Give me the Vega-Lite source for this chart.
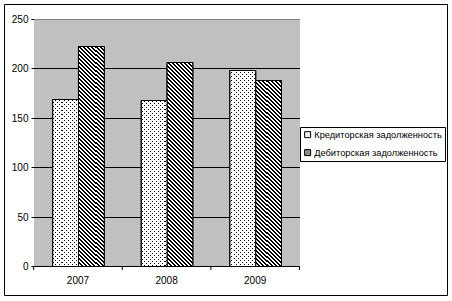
{
"$schema":"https://vega.github.io/schema/vega-lite/v6.json",
"width":443,"height":291,
"autosize":{"type":"none"},
"padding":{"left":4,"top":4,"right":5,"bottom":6},
"background":"white",
"config":{"font":"Liberation Sans","view":{"stroke":"black","strokeWidth":1,"fill":"white"},
"axis":{"labelFont":"Liberation Sans","labelFontSize":10,"labelColor":"black","tickColor":"black","tickWidth":1,"grid":false,"domain":false,"title":null}},
"params":[
{"name":"hs","value":[
{"offset":0,"color":"#000"},
{"offset":0.008,"color":"#000"},{"offset":0.008,"color":"#fff"},{"offset":0.016,"color":"#fff"},{"offset":0.016,"color":"#000"},
{"offset":0.024,"color":"#000"},{"offset":0.024,"color":"#fff"},{"offset":0.032,"color":"#fff"},{"offset":0.032,"color":"#000"},
{"offset":0.04,"color":"#000"},{"offset":0.04,"color":"#fff"},{"offset":0.048,"color":"#fff"},{"offset":0.048,"color":"#000"},
{"offset":0.056,"color":"#000"},{"offset":0.056,"color":"#fff"},{"offset":0.064,"color":"#fff"},{"offset":0.064,"color":"#000"},
{"offset":0.072,"color":"#000"},{"offset":0.072,"color":"#fff"},{"offset":0.08,"color":"#fff"},{"offset":0.08,"color":"#000"},
{"offset":0.088,"color":"#000"},{"offset":0.088,"color":"#fff"},{"offset":0.096,"color":"#fff"},{"offset":0.096,"color":"#000"},
{"offset":0.104,"color":"#000"},{"offset":0.104,"color":"#fff"},{"offset":0.112,"color":"#fff"},{"offset":0.112,"color":"#000"},
{"offset":0.12,"color":"#000"},{"offset":0.12,"color":"#fff"},{"offset":0.128,"color":"#fff"},{"offset":0.128,"color":"#000"},
{"offset":0.136,"color":"#000"},{"offset":0.136,"color":"#fff"},{"offset":0.144,"color":"#fff"},{"offset":0.144,"color":"#000"},
{"offset":0.152,"color":"#000"},{"offset":0.152,"color":"#fff"},{"offset":0.16,"color":"#fff"},{"offset":0.16,"color":"#000"},
{"offset":0.168,"color":"#000"},{"offset":0.168,"color":"#fff"},{"offset":0.176,"color":"#fff"},{"offset":0.176,"color":"#000"},
{"offset":0.184,"color":"#000"},{"offset":0.184,"color":"#fff"},{"offset":0.192,"color":"#fff"},{"offset":0.192,"color":"#000"},
{"offset":0.2,"color":"#000"},{"offset":0.2,"color":"#fff"},{"offset":0.208,"color":"#fff"},{"offset":0.208,"color":"#000"},
{"offset":0.216,"color":"#000"},{"offset":0.216,"color":"#fff"},{"offset":0.224,"color":"#fff"},{"offset":0.224,"color":"#000"},
{"offset":0.232,"color":"#000"},{"offset":0.232,"color":"#fff"},{"offset":0.24,"color":"#fff"},{"offset":0.24,"color":"#000"},
{"offset":0.248,"color":"#000"},{"offset":0.248,"color":"#fff"},{"offset":0.256,"color":"#fff"},{"offset":0.256,"color":"#000"},
{"offset":0.264,"color":"#000"},{"offset":0.264,"color":"#fff"},{"offset":0.272,"color":"#fff"},{"offset":0.272,"color":"#000"},
{"offset":0.28,"color":"#000"},{"offset":0.28,"color":"#fff"},{"offset":0.288,"color":"#fff"},{"offset":0.288,"color":"#000"},
{"offset":0.296,"color":"#000"},{"offset":0.296,"color":"#fff"},{"offset":0.304,"color":"#fff"},{"offset":0.304,"color":"#000"},
{"offset":0.312,"color":"#000"},{"offset":0.312,"color":"#fff"},{"offset":0.32,"color":"#fff"},{"offset":0.32,"color":"#000"},
{"offset":0.328,"color":"#000"},{"offset":0.328,"color":"#fff"},{"offset":0.336,"color":"#fff"},{"offset":0.336,"color":"#000"},
{"offset":0.344,"color":"#000"},{"offset":0.344,"color":"#fff"},{"offset":0.352,"color":"#fff"},{"offset":0.352,"color":"#000"},
{"offset":0.36,"color":"#000"},{"offset":0.36,"color":"#fff"},{"offset":0.368,"color":"#fff"},{"offset":0.368,"color":"#000"},
{"offset":0.376,"color":"#000"},{"offset":0.376,"color":"#fff"},{"offset":0.384,"color":"#fff"},{"offset":0.384,"color":"#000"},
{"offset":0.392,"color":"#000"},{"offset":0.392,"color":"#fff"},{"offset":0.4,"color":"#fff"},{"offset":0.4,"color":"#000"},
{"offset":0.408,"color":"#000"},{"offset":0.408,"color":"#fff"},{"offset":0.416,"color":"#fff"},{"offset":0.416,"color":"#000"},
{"offset":0.424,"color":"#000"},{"offset":0.424,"color":"#fff"},{"offset":0.432,"color":"#fff"},{"offset":0.432,"color":"#000"},
{"offset":0.44,"color":"#000"},{"offset":0.44,"color":"#fff"},{"offset":0.448,"color":"#fff"},{"offset":0.448,"color":"#000"},
{"offset":0.456,"color":"#000"},{"offset":0.456,"color":"#fff"},{"offset":0.464,"color":"#fff"},{"offset":0.464,"color":"#000"},
{"offset":0.472,"color":"#000"},{"offset":0.472,"color":"#fff"},{"offset":0.48,"color":"#fff"},{"offset":0.48,"color":"#000"},
{"offset":0.488,"color":"#000"},{"offset":0.488,"color":"#fff"},{"offset":0.496,"color":"#fff"},{"offset":0.496,"color":"#000"},
{"offset":0.504,"color":"#000"},{"offset":0.504,"color":"#fff"},{"offset":0.512,"color":"#fff"},{"offset":0.512,"color":"#000"},
{"offset":0.52,"color":"#000"},{"offset":0.52,"color":"#fff"},{"offset":0.528,"color":"#fff"},{"offset":0.528,"color":"#000"},
{"offset":0.536,"color":"#000"},{"offset":0.536,"color":"#fff"},{"offset":0.544,"color":"#fff"},{"offset":0.544,"color":"#000"},
{"offset":0.552,"color":"#000"},{"offset":0.552,"color":"#fff"},{"offset":0.56,"color":"#fff"},{"offset":0.56,"color":"#000"},
{"offset":0.568,"color":"#000"},{"offset":0.568,"color":"#fff"},{"offset":0.576,"color":"#fff"},{"offset":0.576,"color":"#000"},
{"offset":0.584,"color":"#000"},{"offset":0.584,"color":"#fff"},{"offset":0.592,"color":"#fff"},{"offset":0.592,"color":"#000"},
{"offset":0.6,"color":"#000"},{"offset":0.6,"color":"#fff"},{"offset":0.608,"color":"#fff"},{"offset":0.608,"color":"#000"},
{"offset":0.616,"color":"#000"},{"offset":0.616,"color":"#fff"},{"offset":0.624,"color":"#fff"},{"offset":0.624,"color":"#000"},
{"offset":0.632,"color":"#000"},{"offset":0.632,"color":"#fff"},{"offset":0.64,"color":"#fff"},{"offset":0.64,"color":"#000"},
{"offset":0.648,"color":"#000"},{"offset":0.648,"color":"#fff"},{"offset":0.656,"color":"#fff"},{"offset":0.656,"color":"#000"},
{"offset":0.664,"color":"#000"},{"offset":0.664,"color":"#fff"},{"offset":0.672,"color":"#fff"},{"offset":0.672,"color":"#000"},
{"offset":0.68,"color":"#000"},{"offset":0.68,"color":"#fff"},{"offset":0.688,"color":"#fff"},{"offset":0.688,"color":"#000"},
{"offset":0.696,"color":"#000"},{"offset":0.696,"color":"#fff"},{"offset":0.704,"color":"#fff"},{"offset":0.704,"color":"#000"},
{"offset":0.712,"color":"#000"},{"offset":0.712,"color":"#fff"},{"offset":0.72,"color":"#fff"},{"offset":0.72,"color":"#000"},
{"offset":0.728,"color":"#000"},{"offset":0.728,"color":"#fff"},{"offset":0.736,"color":"#fff"},{"offset":0.736,"color":"#000"},
{"offset":0.744,"color":"#000"},{"offset":0.744,"color":"#fff"},{"offset":0.752,"color":"#fff"},{"offset":0.752,"color":"#000"},
{"offset":0.76,"color":"#000"},{"offset":0.76,"color":"#fff"},{"offset":0.768,"color":"#fff"},{"offset":0.768,"color":"#000"},
{"offset":0.776,"color":"#000"},{"offset":0.776,"color":"#fff"},{"offset":0.784,"color":"#fff"},{"offset":0.784,"color":"#000"},
{"offset":0.792,"color":"#000"},{"offset":0.792,"color":"#fff"},{"offset":0.8,"color":"#fff"},{"offset":0.8,"color":"#000"},
{"offset":0.808,"color":"#000"},{"offset":0.808,"color":"#fff"},{"offset":0.816,"color":"#fff"},{"offset":0.816,"color":"#000"},
{"offset":0.824,"color":"#000"},{"offset":0.824,"color":"#fff"},{"offset":0.832,"color":"#fff"},{"offset":0.832,"color":"#000"},
{"offset":0.84,"color":"#000"},{"offset":0.84,"color":"#fff"},{"offset":0.848,"color":"#fff"},{"offset":0.848,"color":"#000"},
{"offset":0.856,"color":"#000"},{"offset":0.856,"color":"#fff"},{"offset":0.864,"color":"#fff"},{"offset":0.864,"color":"#000"},
{"offset":0.872,"color":"#000"},{"offset":0.872,"color":"#fff"},{"offset":0.88,"color":"#fff"},{"offset":0.88,"color":"#000"},
{"offset":0.888,"color":"#000"},{"offset":0.888,"color":"#fff"},{"offset":0.896,"color":"#fff"},{"offset":0.896,"color":"#000"},
{"offset":0.904,"color":"#000"},{"offset":0.904,"color":"#fff"},{"offset":0.912,"color":"#fff"},{"offset":0.912,"color":"#000"},
{"offset":0.92,"color":"#000"},{"offset":0.92,"color":"#fff"},{"offset":0.928,"color":"#fff"},{"offset":0.928,"color":"#000"},
{"offset":0.936,"color":"#000"},{"offset":0.936,"color":"#fff"},{"offset":0.944,"color":"#fff"},{"offset":0.944,"color":"#000"},
{"offset":0.952,"color":"#000"},{"offset":0.952,"color":"#fff"},{"offset":0.96,"color":"#fff"},{"offset":0.96,"color":"#000"},
{"offset":0.968,"color":"#000"},{"offset":0.968,"color":"#fff"},{"offset":0.976,"color":"#fff"},{"offset":0.976,"color":"#000"},
{"offset":0.984,"color":"#000"},{"offset":0.984,"color":"#fff"},{"offset":1,"color":"#fff"}]},
{"name":"ms","value":[
{"offset":0,"color":"transparent"},
{"offset":0.004,"color":"transparent"},{"offset":0.004,"color":"#fff"},{"offset":0.016,"color":"#fff"},{"offset":0.016,"color":"transparent"},
{"offset":0.02,"color":"transparent"},{"offset":0.02,"color":"#fff"},{"offset":0.032,"color":"#fff"},{"offset":0.032,"color":"transparent"},
{"offset":0.036,"color":"transparent"},{"offset":0.036,"color":"#fff"},{"offset":0.048,"color":"#fff"},{"offset":0.048,"color":"transparent"},
{"offset":0.052,"color":"transparent"},{"offset":0.052,"color":"#fff"},{"offset":0.064,"color":"#fff"},{"offset":0.064,"color":"transparent"},
{"offset":0.068,"color":"transparent"},{"offset":0.068,"color":"#fff"},{"offset":0.08,"color":"#fff"},{"offset":0.08,"color":"transparent"},
{"offset":0.084,"color":"transparent"},{"offset":0.084,"color":"#fff"},{"offset":0.096,"color":"#fff"},{"offset":0.096,"color":"transparent"},
{"offset":0.1,"color":"transparent"},{"offset":0.1,"color":"#fff"},{"offset":0.112,"color":"#fff"},{"offset":0.112,"color":"transparent"},
{"offset":0.116,"color":"transparent"},{"offset":0.116,"color":"#fff"},{"offset":0.128,"color":"#fff"},{"offset":0.128,"color":"transparent"},
{"offset":0.132,"color":"transparent"},{"offset":0.132,"color":"#fff"},{"offset":0.144,"color":"#fff"},{"offset":0.144,"color":"transparent"},
{"offset":0.148,"color":"transparent"},{"offset":0.148,"color":"#fff"},{"offset":0.16,"color":"#fff"},{"offset":0.16,"color":"transparent"},
{"offset":0.164,"color":"transparent"},{"offset":0.164,"color":"#fff"},{"offset":0.176,"color":"#fff"},{"offset":0.176,"color":"transparent"},
{"offset":0.18,"color":"transparent"},{"offset":0.18,"color":"#fff"},{"offset":0.192,"color":"#fff"},{"offset":0.192,"color":"transparent"},
{"offset":0.196,"color":"transparent"},{"offset":0.196,"color":"#fff"},{"offset":0.208,"color":"#fff"},{"offset":0.208,"color":"transparent"},
{"offset":0.212,"color":"transparent"},{"offset":0.212,"color":"#fff"},{"offset":0.224,"color":"#fff"},{"offset":0.224,"color":"transparent"},
{"offset":0.228,"color":"transparent"},{"offset":0.228,"color":"#fff"},{"offset":0.24,"color":"#fff"},{"offset":0.24,"color":"transparent"},
{"offset":0.244,"color":"transparent"},{"offset":0.244,"color":"#fff"},{"offset":0.256,"color":"#fff"},{"offset":0.256,"color":"transparent"},
{"offset":0.26,"color":"transparent"},{"offset":0.26,"color":"#fff"},{"offset":0.272,"color":"#fff"},{"offset":0.272,"color":"transparent"},
{"offset":0.276,"color":"transparent"},{"offset":0.276,"color":"#fff"},{"offset":0.288,"color":"#fff"},{"offset":0.288,"color":"transparent"},
{"offset":0.292,"color":"transparent"},{"offset":0.292,"color":"#fff"},{"offset":0.304,"color":"#fff"},{"offset":0.304,"color":"transparent"},
{"offset":0.308,"color":"transparent"},{"offset":0.308,"color":"#fff"},{"offset":0.32,"color":"#fff"},{"offset":0.32,"color":"transparent"},
{"offset":0.324,"color":"transparent"},{"offset":0.324,"color":"#fff"},{"offset":0.336,"color":"#fff"},{"offset":0.336,"color":"transparent"},
{"offset":0.34,"color":"transparent"},{"offset":0.34,"color":"#fff"},{"offset":0.352,"color":"#fff"},{"offset":0.352,"color":"transparent"},
{"offset":0.356,"color":"transparent"},{"offset":0.356,"color":"#fff"},{"offset":0.368,"color":"#fff"},{"offset":0.368,"color":"transparent"},
{"offset":0.372,"color":"transparent"},{"offset":0.372,"color":"#fff"},{"offset":0.384,"color":"#fff"},{"offset":0.384,"color":"transparent"},
{"offset":0.388,"color":"transparent"},{"offset":0.388,"color":"#fff"},{"offset":0.4,"color":"#fff"},{"offset":0.4,"color":"transparent"},
{"offset":0.404,"color":"transparent"},{"offset":0.404,"color":"#fff"},{"offset":0.416,"color":"#fff"},{"offset":0.416,"color":"transparent"},
{"offset":0.42,"color":"transparent"},{"offset":0.42,"color":"#fff"},{"offset":0.432,"color":"#fff"},{"offset":0.432,"color":"transparent"},
{"offset":0.436,"color":"transparent"},{"offset":0.436,"color":"#fff"},{"offset":0.448,"color":"#fff"},{"offset":0.448,"color":"transparent"},
{"offset":0.452,"color":"transparent"},{"offset":0.452,"color":"#fff"},{"offset":0.464,"color":"#fff"},{"offset":0.464,"color":"transparent"},
{"offset":0.468,"color":"transparent"},{"offset":0.468,"color":"#fff"},{"offset":0.48,"color":"#fff"},{"offset":0.48,"color":"transparent"},
{"offset":0.484,"color":"transparent"},{"offset":0.484,"color":"#fff"},{"offset":0.496,"color":"#fff"},{"offset":0.496,"color":"transparent"},
{"offset":0.5,"color":"transparent"},{"offset":0.5,"color":"#fff"},{"offset":0.512,"color":"#fff"},{"offset":0.512,"color":"transparent"},
{"offset":0.516,"color":"transparent"},{"offset":0.516,"color":"#fff"},{"offset":0.528,"color":"#fff"},{"offset":0.528,"color":"transparent"},
{"offset":0.532,"color":"transparent"},{"offset":0.532,"color":"#fff"},{"offset":0.544,"color":"#fff"},{"offset":0.544,"color":"transparent"},
{"offset":0.548,"color":"transparent"},{"offset":0.548,"color":"#fff"},{"offset":0.56,"color":"#fff"},{"offset":0.56,"color":"transparent"},
{"offset":0.564,"color":"transparent"},{"offset":0.564,"color":"#fff"},{"offset":0.576,"color":"#fff"},{"offset":0.576,"color":"transparent"},
{"offset":0.58,"color":"transparent"},{"offset":0.58,"color":"#fff"},{"offset":0.592,"color":"#fff"},{"offset":0.592,"color":"transparent"},
{"offset":0.596,"color":"transparent"},{"offset":0.596,"color":"#fff"},{"offset":0.608,"color":"#fff"},{"offset":0.608,"color":"transparent"},
{"offset":0.612,"color":"transparent"},{"offset":0.612,"color":"#fff"},{"offset":0.624,"color":"#fff"},{"offset":0.624,"color":"transparent"},
{"offset":0.628,"color":"transparent"},{"offset":0.628,"color":"#fff"},{"offset":0.64,"color":"#fff"},{"offset":0.64,"color":"transparent"},
{"offset":0.644,"color":"transparent"},{"offset":0.644,"color":"#fff"},{"offset":0.656,"color":"#fff"},{"offset":0.656,"color":"transparent"},
{"offset":0.66,"color":"transparent"},{"offset":0.66,"color":"#fff"},{"offset":0.672,"color":"#fff"},{"offset":0.672,"color":"transparent"},
{"offset":0.676,"color":"transparent"},{"offset":0.676,"color":"#fff"},{"offset":0.688,"color":"#fff"},{"offset":0.688,"color":"transparent"},
{"offset":0.692,"color":"transparent"},{"offset":0.692,"color":"#fff"},{"offset":0.704,"color":"#fff"},{"offset":0.704,"color":"transparent"},
{"offset":0.708,"color":"transparent"},{"offset":0.708,"color":"#fff"},{"offset":0.72,"color":"#fff"},{"offset":0.72,"color":"transparent"},
{"offset":0.724,"color":"transparent"},{"offset":0.724,"color":"#fff"},{"offset":0.736,"color":"#fff"},{"offset":0.736,"color":"transparent"},
{"offset":0.74,"color":"transparent"},{"offset":0.74,"color":"#fff"},{"offset":0.752,"color":"#fff"},{"offset":0.752,"color":"transparent"},
{"offset":0.756,"color":"transparent"},{"offset":0.756,"color":"#fff"},{"offset":0.768,"color":"#fff"},{"offset":0.768,"color":"transparent"},
{"offset":0.772,"color":"transparent"},{"offset":0.772,"color":"#fff"},{"offset":0.784,"color":"#fff"},{"offset":0.784,"color":"transparent"},
{"offset":0.788,"color":"transparent"},{"offset":0.788,"color":"#fff"},{"offset":0.8,"color":"#fff"},{"offset":0.8,"color":"transparent"},
{"offset":0.804,"color":"transparent"},{"offset":0.804,"color":"#fff"},{"offset":0.816,"color":"#fff"},{"offset":0.816,"color":"transparent"},
{"offset":0.82,"color":"transparent"},{"offset":0.82,"color":"#fff"},{"offset":0.832,"color":"#fff"},{"offset":0.832,"color":"transparent"},
{"offset":0.836,"color":"transparent"},{"offset":0.836,"color":"#fff"},{"offset":0.848,"color":"#fff"},{"offset":0.848,"color":"transparent"},
{"offset":0.852,"color":"transparent"},{"offset":0.852,"color":"#fff"},{"offset":0.864,"color":"#fff"},{"offset":0.864,"color":"transparent"},
{"offset":0.868,"color":"transparent"},{"offset":0.868,"color":"#fff"},{"offset":0.88,"color":"#fff"},{"offset":0.88,"color":"transparent"},
{"offset":0.884,"color":"transparent"},{"offset":0.884,"color":"#fff"},{"offset":0.896,"color":"#fff"},{"offset":0.896,"color":"transparent"},
{"offset":0.9,"color":"transparent"},{"offset":0.9,"color":"#fff"},{"offset":1,"color":"#fff"}]}
],
"data":{"values":[
{"year":"2007","series":"Кредиторская задолженность","value":169},
{"year":"2007","series":"Дебиторская задолженность","value":223},
{"year":"2008","series":"Кредиторская задолженность","value":168},
{"year":"2008","series":"Дебиторская задолженность","value":206},
{"year":"2009","series":"Кредиторская задолженность","value":198},
{"year":"2009","series":"Дебиторская задолженность","value":188}
]},
"encoding":{
"x":{"field":"year","type":"nominal","scale":{"domain":["2007","2008","2009"],"paddingInner":0,"paddingOuter":1.07558,"align":0.17027}},
"y":{"field":"value","type":"quantitative","scale":{"domain":[-29.352,265.182],"nice":false,"zero":false,"round":true}},
"y2":{"datum":0}
},
"layer":[
{"mark":{"type":"bar","color":"#c0c0c0","fill":"#c0c0c0","opacity":1,"fillOpacity":1,"strokeWidth":0},
"encoding":{"y":{"datum":250,"type":"quantitative"},"y2":{"datum":0}}},
{"mark":{"type":"rect","color":"#c0c0c0","fill":"#c0c0c0","opacity":1,"fillOpacity":1},
"encoding":{"y":{"datum":250,"type":"quantitative"},"y2":{"datum":0}}},
{"data":{"values":[{"g":0},{"g":50},{"g":100},{"g":150},{"g":200},{"g":250}]},
"mark":{"type":"rule","strokeWidth":1,"yOffset":0.5},
"encoding":{"x":{"datum":"2007","type":"nominal","bandPosition":0},"x2":{"datum":"2009","bandPosition":1},"y":{"field":"g","type":"quantitative"},"y2":null,
"stroke":{"condition":{"test":"datum.g === 250","value":"#808080"},"value":"black"}}},
{"data":{"values":[{}]},
"mark":{"type":"rule","stroke":"black","strokeWidth":1,"yOffset":0.5,"y2Offset":0.5},
"encoding":{"x":{"datum":"2007","type":"nominal","bandPosition":0},"y":{"datum":0,"type":"quantitative"},"y2":{"datum":250}}},
{"data":{"values":[{}]},
"mark":{"type":"rule","stroke":"#808080","strokeWidth":1,"yOffset":0.5,"y2Offset":0.5},
"encoding":{"x":{"datum":"2009","type":"nominal","bandPosition":1},"y":{"datum":0,"type":"quantitative"},"y2":{"datum":250}}},
{"mark":{"type":"bar","stroke":"black","strokeWidth":1,"yOffset":0.5,"y2Offset":0.5},
"encoding":{
"x":{"field":"year","type":"nominal","axis":{"offset":-29,"translate":0,"bandPosition":1,"tickExtra":true,"tickRound":false,"tickSize":4,"labelAngle":0,"labelAlign":"center","labelBaseline":"top","labelPadding":6,"title":null}},
"xOffset":{"field":"series","type":"nominal","scale":{"domain":["Кредиторская задолженность","Дебиторская задолженность"],"paddingInner":0,"paddingOuter":0.72}},
"y":{"field":"value","type":"quantitative","axis":{"values":[0,50,100,150,200,250],"offset":-31,"tickSize":4,"labelPadding":3,"title":null}},
"fill":{"field":"series","type":"nominal","scale":{"domain":["Кредиторская задолженность","Дебиторская задолженность"],"range":["#eeeeee","#8c8c8c"]},
"legend":{"orient":"none","legendX":296,"legendY":123,"title":null,"padding":3,"rowPadding":7,"strokeColor":"black","fillColor":"white","symbolType":"square","symbolSize":36,"symbolStrokeColor":"black","symbolStrokeWidth":1,"symbolOpacity":1,"labelFont":"Liberation Sans","labelFontSize":9.25,"labelColor":"black","labelOffset":2,"labelLimit":0}}
}},
{"mark":{"type":"bar","stroke":"black","strokeWidth":1,"yOffset":0.5,"y2Offset":0.5},
"encoding":{"xOffset":{"field":"series","type":"nominal","scale":{"domain":["Кредиторская задолженность","Дебиторская задолженность"],"paddingInner":0,"paddingOuter":0.72}},
"fill":{"value":{"expr":"{gradient:'linear',x1:-((scale('y',0)-scale('y',datum.value))+0.5)*25/(625+(scale('y',0)-scale('y',datum.value))*(scale('y',0)-scale('y',datum.value))),y1:((scale('y',0)-scale('y',datum.value))+0.5)*(scale('y',0)-scale('y',datum.value))/(625+(scale('y',0)-scale('y',datum.value))*(scale('y',0)-scale('y',datum.value))),x2:(249.5-(scale('y',0)-scale('y',datum.value)))*25/(625+(scale('y',0)-scale('y',datum.value))*(scale('y',0)-scale('y',datum.value))),y2:((scale('y',0)-scale('y',datum.value))-249.5)*(scale('y',0)-scale('y',datum.value))/(625+(scale('y',0)-scale('y',datum.value))*(scale('y',0)-scale('y',datum.value))),stops:hs}"}}}},
{"transform":[{"filter":"datum.series === 'Кредиторская задолженность'"}],
"mark":{"type":"bar","stroke":"black","strokeWidth":1,"yOffset":0.5,"y2Offset":0.5},
"encoding":{"xOffset":{"field":"series","type":"nominal","scale":{"domain":["Кредиторская задолженность","Дебиторская задолженность"],"paddingInner":0,"paddingOuter":0.72}},
"fill":{"value":{"expr":"{gradient:'linear',x1:-12.5/(625+(scale('y',0)-scale('y',datum.value))*(scale('y',0)-scale('y',datum.value))),y1:-0.5*(scale('y',0)-scale('y',datum.value))/(625+(scale('y',0)-scale('y',datum.value))*(scale('y',0)-scale('y',datum.value))),x2:6237.5/(625+(scale('y',0)-scale('y',datum.value))*(scale('y',0)-scale('y',datum.value))),y2:249.5*(scale('y',0)-scale('y',datum.value))/(625+(scale('y',0)-scale('y',datum.value))*(scale('y',0)-scale('y',datum.value))),stops:ms}"}}}}
]
}
